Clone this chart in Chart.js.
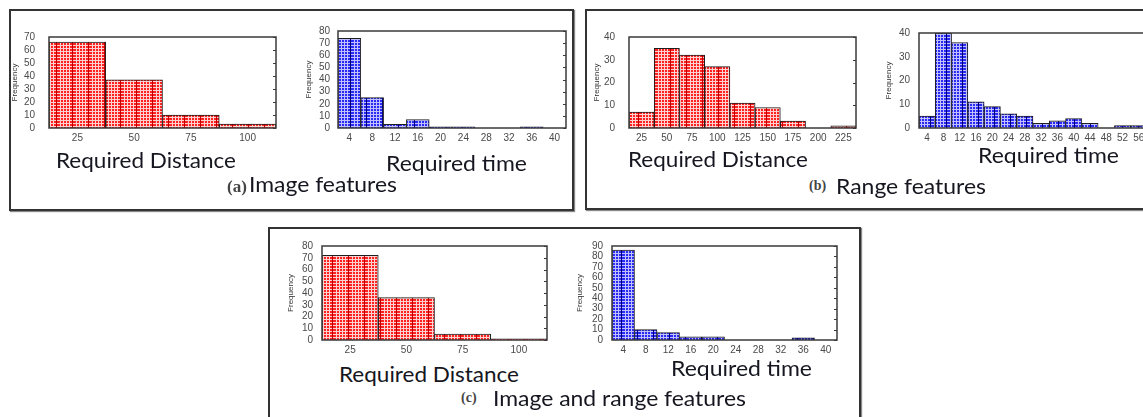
<!DOCTYPE html>
<html>
<head>
<meta charset="utf-8">
<script src="https://cdn.jsdelivr.net/npm/chart.js"></script>
<style>
    html, body { margin: 0; padding: 0; background: #fff; }
    body { width: 1143px; height: 417px; position: relative; overflow: hidden; }
    .panel { position: absolute; border: 2px solid #333; box-shadow: 1px 1px 1px #888; box-sizing: border-box; }
    .chart { position: absolute; }
    .label { position: absolute; white-space: nowrap; transform-origin: 0 0; color: #161620; }
</style>
</head>
<body>
<div class="panel" style="left:9px; top:9px; width:565px; height:202px;"></div>
<div class="panel" style="left:585px; top:9px; width:570px; height:201px;"></div>
<div class="panel" style="left:268px; top:227px; width:593px; height:200px;"></div>

<script>
// bin labels
const distLabels = ['25', '50', '75', '100'];
const timeLabels = ['4', '8', '12', '16', '20', '24', '28', '32', '36', '40'];
const rangeDistLabels = ['25', '50', '75', '100', '125', '150', '175', '200', '225'];
const rangeTimeLabels = ['4', '8', '12', '16', '20', '24', '28', '32', '36', '40', '44', '48', '52', '56'];

// frequencies
const imageDist = [66, 37, 10, 3];
const imageTime = [74, 25, 3, 7, 1, 1, 0, 0, 1, 0];
const rangeDist = [7, 35, 32, 27, 11, 9, 3, 0, 1];
const rangeTime = [5, 40, 36, 11, 9, 6, 5, 2, 3, 4, 2, 0, 1, 1];
const bothDist = [72, 36, 5, 1];
const bothTime = [86, 10, 7, 3, 3, 0, 0, 0, 2, 0];

function makePattern(base, mesh, stripe) {
    const c = document.createElement('canvas');
    c.width = 16;
    c.height = 3;
    const g = c.getContext('2d');
    g.fillStyle = base;
    g.fillRect(0, 0, 16, 3);
    g.fillStyle = mesh;
    [2, 5, 8, 11].forEach(x => g.fillRect(x, 0, 1, 3));
    g.fillRect(0, 1, 16, 1);
    g.fillStyle = stripe;
    g.fillRect(14, 0, 1, 3);
    return g.createPattern(c, 'repeat');
}

const redFill = makePattern('#ff2020', '#ffd2d2', '#c00000');
const blueFill = makePattern('#2a2af2', '#c0c0ff', '#00007a');

// plot frame with small inward ticks on the right side
const framePlugin = {
    id: 'frame',
    afterDatasetsDraw(chart) {
        const { ctx, chartArea: a } = chart;
        const y = chart.scales.y;
        ctx.save();
        ctx.strokeStyle = '#3a3a3a';
        ctx.lineWidth = 1.5;
        ctx.strokeRect(a.left, a.top, a.right - a.left, a.bottom - a.top);
        ctx.beginPath();
        ctx.lineWidth = 1;
        y.ticks.forEach((t, i) => {
            const py = Math.round(y.getPixelForTick(i)) + 0.5;
            ctx.moveTo(a.right, py);
            ctx.lineTo(a.right - 3, py);
        });
        ctx.stroke();
        ctx.restore();
    }
};

const tickFont = { family: "'Liberation Sans Narrow', 'Liberation Sans', sans-serif", size: 10 };

function makeHist(plot, titleX, yPad, yMax, labels, values, fill) {
    const left = Math.round(titleX - 5);
    const top = plot.t - 8;
    const yWidth = plot.l - left;
    const w = plot.r - left + 2;
    const h = plot.b - top + 20;
    const canvas = document.createElement('canvas');
    canvas.className = 'chart';
    canvas.style.left = left + 'px';
    canvas.style.top = top + 'px';
    canvas.width = w;
    canvas.height = h;
    document.body.appendChild(canvas);

    return new Chart(canvas.getContext('2d'), {
        type: 'bar',
        data: {
            labels: labels,
            datasets: [{
                data: values,
                backgroundColor: fill,
                borderColor: '#1e1e1e',
                borderWidth: 1,
                categoryPercentage: 1,
                barPercentage: 1
            }]
        },
        options: {
            responsive: false,
            animation: false,
            devicePixelRatio: 1,
            layout: { padding: { top: 8, right: 2, left: 0, bottom: 0 } },
            plugins: { legend: { display: false }, tooltip: { enabled: false } },
            scales: {
                x: {
                    grid: { display: false, drawTicks: false },
                    border: { display: false },
                    ticks: { color: '#4a4a4a', font: tickFont, padding: 4, autoSkip: false, maxRotation: 0, minRotation: 0 },
                    afterFit: s => { s.height = 20; }
                },
                y: {
                    min: 0,
                    max: yMax,
                    grid: { display: false, drawTicks: false },
                    border: { display: false },
                    ticks: { color: '#4a4a4a', font: tickFont, padding: yPad, stepSize: 10, autoSkip: false },
                    title: { display: true, text: 'Frequency', color: '#333', font: { family: 'Liberation Sans', size: 8 }, padding: 0 },
                    afterFit: s => { s.width = yWidth; }
                }
            }
        },
        plugins: [framePlugin]
    });
}

makeHist({ l: 49, t: 25, r: 276, b: 128 }, 15, 14, 70, distLabels, imageDist, redFill);
makeHist({ l: 338, t: 25, r: 566, b: 128 }, 309, 8, 80, timeLabels, imageTime, blueFill);
makeHist({ l: 629, t: 25, r: 856, b: 128 }, 597, 14, 40, rangeDistLabels, rangeDist, redFill);
makeHist({ l: 919, t: 26, r: 1147, b: 128 }, 889, 9, 40, rangeTimeLabels, rangeTime, blueFill);
makeHist({ l: 322, t: 239, r: 547, b: 340 }, 291, 9, 80, distLabels, bothDist, redFill);
makeHist({ l: 612, t: 239, r: 837, b: 340 }, 580, 9, 90, timeLabels, bothTime, blueFill);

// text labels: left edge, baseline, target width
const measure = document.createElement('canvas').getContext('2d');

function addText(text, x, baseline, width, size, family, color, weight) {
    const font = (weight || 'normal') + ' ' + size + 'px ' + family;
    measure.font = font;
    const m = measure.measureText(text);
    const asc = m.fontBoundingBoxAscent;
    const desc = m.fontBoundingBoxDescent;
    const el = document.createElement('div');
    el.className = 'label';
    el.textContent = text;
    el.style.font = font;
    el.style.lineHeight = (asc + desc) + 'px';
    el.style.left = x + 'px';
    el.style.top = (baseline - asc) + 'px';
    if (color) el.style.color = color;
    if (width) el.style.transform = 'scaleX(' + (width / m.width) + ')';
    document.body.appendChild(el);
}

const sans = "Lato, 'Open Sans', sans-serif";
const serif = "'Liberation Serif', serif";

addText('Required Distance', 56, 168, 180, 21, sans);
addText('Required time', 386, 171, 141, 21, sans);
addText('(a)', 227, 192, 0, 17, serif, '#444', 'bold');
addText('Image features', 249, 192, 148, 21, sans);

addText('Required Distance', 628, 167, 180, 21, sans);
addText('Required time', 978, 163, 141, 21, sans);
addText('(b)', 809, 190, 0, 14, serif, '#444', 'bold');
addText('Range features', 836, 194, 150, 21, sans);

addText('Required Distance', 339, 382, 180, 21, sans);
addText('Required time', 671, 376, 141, 21, sans);
addText('(c)', 461, 402, 0, 14, serif, '#444', 'bold');
addText('Image and range features', 493, 406, 253, 21, sans);
</script>
</body>
</html>
